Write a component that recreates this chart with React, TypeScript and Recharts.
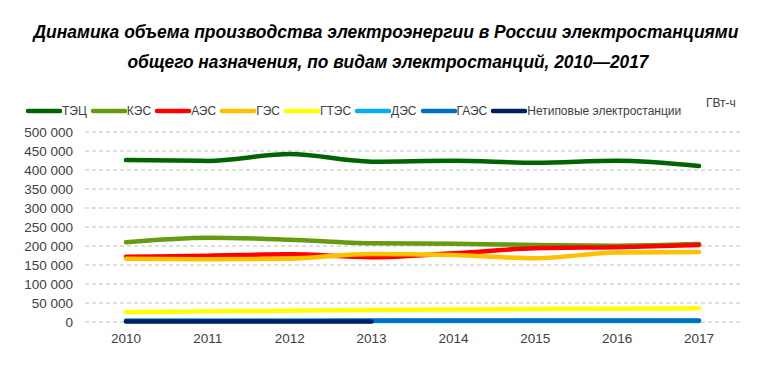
import React, { useLayoutEffect, useRef, useState } from 'react';
import { LineChart, Line, XAxis, YAxis, CartesianGrid } from 'recharts';

const years = ['2010', '2011', '2012', '2013', '2014', '2015', '2016', '2017'];
const tec = [426000, 424000, 442000, 422000, 424500, 419000, 424500, 410500];
const kes = [209700, 221800, 216600, 207000, 206000, 202600, 200800, 205000];
const aes = [171800, 174500, 178000, 170500, 180800, 194000, 197000, 202600];
const ges = [166600, 165000, 166600, 179000, 176000, 167600, 183000, 184000];
const gtes = [26000, 28000, 29700, 31600, 33000, 34000, 35000, 36000];
const des = [2500, 2500, 2500, 2500, 2500, 2500, 2500, 2500];
const gaes = [3500, 3500, 3600, 3700, 3800, 3900, 4000, 4100];
const netip: (number | null)[] = [1500, 1500, 1500, 1500, null, null, null, null];
const yTicks = [0, 50000, 100000, 150000, 200000, 250000, 300000, 350000, 400000, 450000, 500000];

const titleLines = [
  'Динамика объема производства электроэнергии в России электростанциями',
  'общего назначения, по видам электростанций, 2010—2017',
];
const unitLabel = 'ГВт-ч';

const series = [
  { key: 'tec', name: 'ТЭЦ', color: '#006400', values: tec },
  { key: 'kes', name: 'КЭС', color: '#669A0F', values: kes },
  { key: 'aes', name: 'АЭС', color: '#FF0000', values: aes },
  { key: 'ges', name: 'ГЭС', color: '#FFC000', values: ges },
  { key: 'gtes', name: 'ГТЭС', color: '#FFFF00', values: gtes },
  { key: 'des', name: 'ДЭС', color: '#00B0F0', values: des },
  { key: 'gaes', name: 'ГАЭС', color: '#0070C0', values: gaes },
  { key: 'netip', name: 'Нетиповые электростанции', color: '#002060', values: netip },
];

const data = years.map((y, i) => {
  const row: Record<string, any> = { year: y };
  series.forEach((s) => {
    row[s.key] = s.values[i];
  });
  return row;
});

const fmt = (v: number) => String(v).replace(/\B(?=(\d{3})+(?!\d))/g, ' ');

const FONT = '"Liberation Sans", Arial, sans-serif';
const TEXT = '#404040';

function TitleLine({ text, center, top, width }: { text: string; center: number; top: number; width: number }) {
  const ref = useRef<HTMLSpanElement>(null);
  const [scale, setScale] = useState(1);
  useLayoutEffect(() => {
    if (ref.current) {
      const w = ref.current.offsetWidth;
      if (w > 0) setScale(width / w);
    }
  }, [text, width]);
  return (
    <div
      style={{
        position: 'absolute',
        left: center - 400,
        width: 800,
        top,
        textAlign: 'center',
        whiteSpace: 'nowrap',
      }}
    >
      <span
        ref={ref}
        style={{
          display: 'inline-block',
          fontFamily: FONT,
          fontWeight: 'bold',
          fontStyle: 'italic',
          fontSize: 19,
          lineHeight: '22px',
          color: '#000',
          transform: `scaleX(${scale})`,
          transformOrigin: 'center',
        }}
      >
        {text}
      </span>
    </div>
  );
}

export default function App() {
  return (
    <div style={{ position: 'absolute', left: 0, top: 0, width: 771, height: 365, background: '#fff', fontFamily: FONT, overflow: 'hidden' }}>
      <TitleLine text={titleLines[0]} center={385.5} top={21} width={705} />
      <TitleLine text={titleLines[1]} center={387.5} top={51} width={521} />
      <div
        style={{
          position: 'absolute',
          left: 25,
          top: 103,
          display: 'flex',
          alignItems: 'center',
          fontSize: 12,
          color: TEXT,
          whiteSpace: 'nowrap',
          lineHeight: '16px',
        }}
      >
        {series.map((s) => (
          <div key={s.key} style={{ display: 'flex', alignItems: 'center', marginRight: 3 }}>
            <svg width={37} height={10} style={{ display: 'block' }}>
              <line x1={3} y1={5} x2={35} y2={5} stroke={s.color} strokeWidth={4.5} strokeLinecap="round" />
            </svg>
            <span>{s.name}</span>
          </div>
        ))}
      </div>
      <div style={{ position: 'absolute', left: 706, top: 96, fontSize: 12, color: TEXT }}>{unitLabel}</div>
      <div style={{ position: 'absolute', left: 0, top: 0 }}>
        <LineChart width={771} height={365} data={data} margin={{ top: 132, right: 31, bottom: 13, left: 0 }}>
          <CartesianGrid vertical={false} stroke="#BFBFBF" strokeDasharray="4 3" />
          <XAxis
            dataKey="year"
            axisLine={false}
            tickLine={false}
            tickSize={0}
            tickMargin={11}
            height={30}
            padding={{ left: 41, right: 41 }}
            tick={{ fill: TEXT, fontSize: 13.5, fontFamily: FONT }}
            interval={0}
          />
          <YAxis
            domain={[0, 500000]}
            ticks={yTicks}
            axisLine={false}
            tickLine={false}
            tickSize={0}
            tickMargin={12}
            width={85}
            tickFormatter={fmt}
            tick={{ fill: TEXT, fontSize: 13.5, fontFamily: FONT }}
            interval={0}
          />
          {series.map((s) => (
            <Line
              key={s.key}
              type="monotone"
              dataKey={s.key}
              name={s.name}
              stroke={s.color}
              strokeWidth={4.5}
              strokeLinecap="round"
              dot={false}
              activeDot={false}
              connectNulls={false}
              isAnimationActive={false}
            />
          ))}
        </LineChart>
      </div>
    </div>
  );
}
